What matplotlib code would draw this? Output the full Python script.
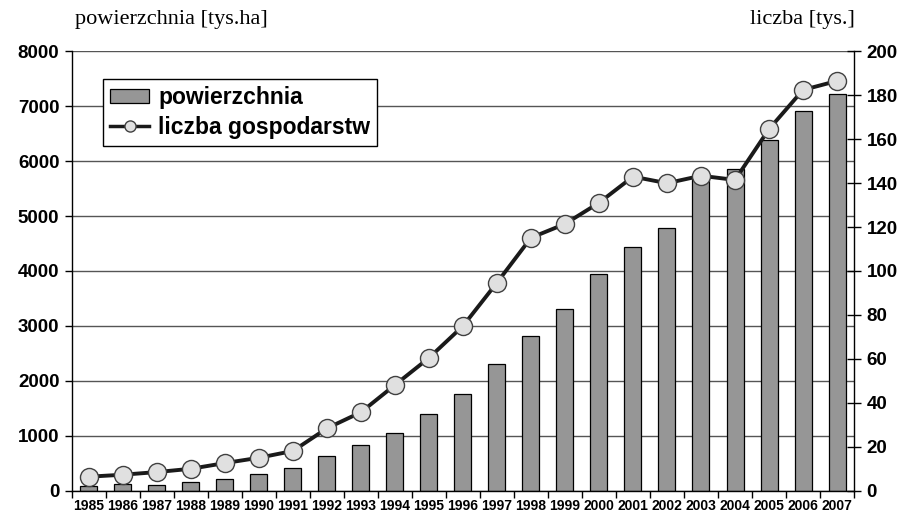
import numpy as np
import matplotlib
matplotlib.use('Agg')
import matplotlib.pyplot as plt
from matplotlib.lines import Line2D
from matplotlib.patches import Patch

years = list(range(1985, 2008))
area = [90, 120, 115, 160, 225, 305, 425, 630, 830, 1060, 1405, 1760, 2310,
        2825, 3300, 3940, 4440, 4790, 5710, 5855, 6380, 6910, 7220]
farms = [6.5, 7.4, 8.6, 10.1, 12.7, 15.1, 18.2, 28.5, 35.8, 48.2, 60.5, 75.0,
         94.7, 115.1, 121.4, 131.0, 142.9, 139.9, 143.3, 141.4, 164.5, 182.3, 186.4]

sans = 'Liberation Sans'
serif = 'Liberation Serif'

fig = plt.figure(figsize=(9.04, 5.2), dpi=100)
ax = fig.add_axes([0.0796, 0.0558, 0.8651, 0.8461])
x = np.arange(len(years))

ax.bar(x, area, width=0.5, color='#969696', edgecolor='black', linewidth=0.9, zorder=2)
ax.set_xlim(-0.5, len(years) - 0.5)
ax.set_ylim(0, 8000)
ax.set_yticks(range(0, 8001, 1000))
ax.set_axisbelow(True)
ax.yaxis.grid(True, color='#555555', linewidth=1.0)

# ticks between categories, labels centred under bars
ax.set_xticks(np.arange(-0.5, len(years)), labels=[])
ax.set_xticks(x, labels=[str(y) for y in years], minor=True)
ax.tick_params(axis='x', which='major', direction='out', length=5, width=1)
ax.tick_params(axis='x', which='minor', length=0, pad=6)
for lab in ax.get_xticklabels(minor=True):
    lab.set_fontfamily(sans)
    lab.set_fontweight('bold')
    lab.set_fontsize(10)
ax.tick_params(axis='y', direction='out', length=5, width=1, pad=4)
for lab in ax.get_yticklabels():
    lab.set_fontfamily(sans)
    lab.set_fontweight('bold')
    lab.set_fontsize(13.5)

ax.spines['top'].set_visible(False)
ax.spines['right'].set_visible(False)
for s in ['left', 'bottom']:
    ax.spines[s].set_linewidth(1.0)

ax2 = ax.twinx()
ax2.plot(x, farms, color='#1a1a1a', linewidth=2.8, marker='o', markersize=13,
         markerfacecolor='#e0e0e0', markeredgecolor='#404040', markeredgewidth=1.0,
         zorder=3)
ax2.set_ylim(0, 200)
ax2.set_yticks(range(0, 201, 20))
ax2.tick_params(axis='y', direction='inout', length=10, width=1, pad=4)
for lab in ax2.get_yticklabels():
    lab.set_fontfamily(sans)
    lab.set_fontweight('bold')
    lab.set_fontsize(13.5)
ax2.spines['top'].set_visible(False)
ax2.spines['left'].set_visible(False)
ax2.spines['bottom'].set_visible(False)
ax2.spines['right'].set_linewidth(1.0)

handles = [Patch(facecolor='#969696', edgecolor='black', linewidth=0.9),
           Line2D([], [], color='#1a1a1a', linewidth=2.5, marker='o', markersize=8,
                  markerfacecolor='#e0e0e0', markeredgecolor='#404040')]
leg = ax2.legend(handles, ['powierzchnia', 'liczba gospodarstw'],
                 loc='upper left', bbox_to_anchor=(0.04, 0.936),
                 prop={'family': sans, 'weight': 'bold', 'size': 16.5},
                 frameon=True, fancybox=False, framealpha=1, edgecolor='black',
                 borderpad=0.3, labelspacing=0.3, handlelength=1.7,
                 handleheight=0.55, handletextpad=0.4, borderaxespad=0)
leg.get_frame().set_linewidth(1.0)

fig.text(0.083, 0.962, 'powierzchnia [tys.ha]', family=serif, fontsize=16,
         ha='left', va='center')
fig.text(0.946, 0.962, 'liczba [tys.]', family=serif, fontsize=16,
         ha='right', va='center')

fig.savefig('out.png', dpi=100)
